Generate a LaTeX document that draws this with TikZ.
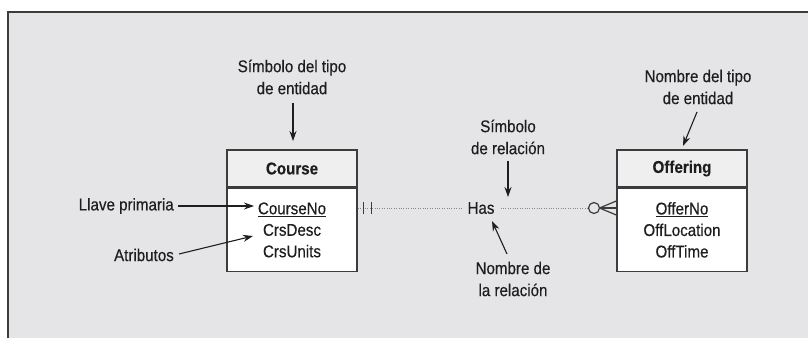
\documentclass[tikz,border=0pt]{standalone}
\usepackage{fontspec}
\setmainfont[FakeStretch=0.89,FakeBold=0.35]{Liberation Sans}
\usetikzlibrary{arrows.meta}
\definecolor{bg}{HTML}{E5E5E7}
\definecolor{ink}{HTML}{1E1E1E}
\definecolor{frame}{HTML}{3C3C3C}
\definecolor{hdrfill}{HTML}{EFEFF0}
\definecolor{dotc}{HTML}{8A8A8A}
\tikzset{
  txt/.style={font=\fontsize{17}{22}\selectfont, text=ink, inner sep=0pt, align=center},
  hdrbox/.style={draw=frame, line width=1.4pt, fill=hdrfill, minimum width=130pt, minimum height=37pt, inner sep=0pt, font=\fontsize{17}{20}\selectfont\bfseries, text=ink},
  bodybox/.style={draw=frame, line width=1.4pt, fill=white, minimum width=130pt, minimum height=83pt, inner sep=0pt, align=center, font=\fontsize{17}{21.5}\selectfont, text=ink},
  arr/.style={draw=ink, line width=1.1pt, -{Stealth[length=10pt,width=7pt]}},
  rel/.style={draw=dotc, line width=0.9pt, dash pattern=on 1pt off 1.4pt},
  card/.style={draw=frame, line width=1.2pt}
}
\begin{document}
\begin{tikzpicture}[x=1pt,y=-1pt]
\useasboundingbox (0,0) rectangle (808,338);
\fill[white] (0,0) rectangle (808,338);
\fill[bg] (8,12) rectangle (808,338);
\draw[frame, line width=2.2pt] (8,338) -- (8,12) -- (808,12);

% entity boxes
\node[hdrbox] (courseH) at (292,168.5) {Course};
\node[bodybox, anchor=north] (courseB) at (courseH.south) {\underline{CourseNo}\\CrsDesc\\CrsUnits};
\node[hdrbox] (offH) at (682,168.5) {Offering};
\node[bodybox, anchor=north] (offB) at (offH.south) {\underline{OfferNo}\\OffLocation\\OffTime};

% relationship
\node[txt] (has) at (481,208) {Has};
\coordinate (cStart) at (courseB.east |- has);
\coordinate (oEdge) at (offB.west |- has);
\coordinate (circ) at (594,208);
\draw[rel] (cStart) -- ([xshift=-6pt]has.west);
\draw[rel] ([xshift=6pt]has.east) -- ([xshift=-5.5pt]circ);
\draw[card] ([xshift=6pt,yshift=-6pt]cStart) -- ([xshift=6pt,yshift=6pt]cStart);
\draw[card] ([xshift=14pt,yshift=-6pt]cStart) -- ([xshift=14pt,yshift=6pt]cStart);
\draw[card] (circ) circle (5.5pt);
\draw[card] ([xshift=5.5pt]circ) -- ([yshift=-7pt]oEdge);
\draw[card] ([xshift=5.5pt]circ) -- (oEdge);
\draw[card] ([xshift=5.5pt]circ) -- ([yshift=7pt]oEdge);

% labels
\node[txt] (symEnt) at (292,77) {Símbolo del tipo\\de entidad};
\node[txt] (nomEnt) at (698,87) {Nombre del tipo\\de entidad};
\node[txt] (symRel) at (508,137) {Símbolo\\de relación};
\node[txt] (nomRel) at (513,279) {Nombre de\\la relación};
\node[txt, anchor=east] (llave) at (174,206) {Llave primaria};
\node[txt, anchor=east] (atrib) at (174,255) {Atributos};

\coordinate (tSymEnt) at (293,141);
\coordinate (tNomEnt) at (683,146);
\coordinate (tSymRel) at (508,197);
\coordinate (tNomRel) at (492,221);
\coordinate (tLlave) at (254,206);
\coordinate (tAtrib) at (253,236);

\draw[arr] (293,103) -- (tSymEnt);
\draw[arr] (697,112) -- (tNomEnt);
\draw[arr] (508,161) -- (tSymRel);
\draw[arr] (507,254) -- (tNomRel);
\draw[arr] ([xshift=4pt]llave.east) -- (tLlave);
\draw[arr] ([xshift=5pt,yshift=1pt]atrib.east) -- (tAtrib);
\end{tikzpicture}
\end{document}
